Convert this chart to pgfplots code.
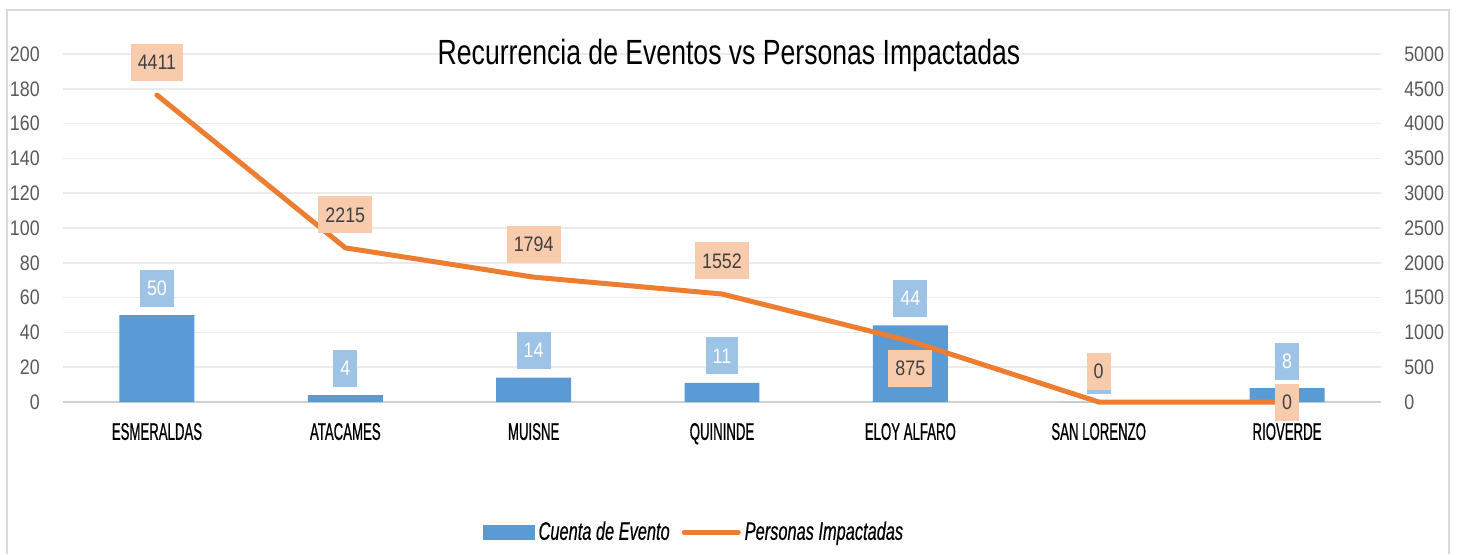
\documentclass[border=0pt]{standalone}
\usepackage{fontspec}
\setmainfont{Liberation Sans}[FakeStretch=0.65]
\newfontfamily\numfont{Liberation Sans}[FakeStretch=0.85]
\newfontfamily\catfont{Liberation Sans}[FakeStretch=0.55, FakeBold=0.7]
\newfontfamily\legfont{Liberation Sans}[FakeStretch=0.65, FakeBold=0.5]
\newfontfamily\titlefont{Liberation Sans}[FakeStretch=0.76]
\usepackage{pgfplots}
\usepackage{pgfplotstable}
\pgfplotsset{compat=1.18}
\definecolor{barblue}{HTML}{5B9BD5}
\definecolor{lineorange}{HTML}{ED7D31}
\definecolor{lblblue}{HTML}{9DC3E6}
\definecolor{lblorange}{HTML}{F8CBAD}
\definecolor{gridgray}{HTML}{EBEBEB}
\definecolor{axgray}{HTML}{D0D0D0}
\definecolor{ticktxt}{HTML}{595959}
\definecolor{framegray}{HTML}{D9D9D9}

\pgfplotstableread{
x y lab
0 50 50
1 4 4
2 14 14
3 11 11
4 44 44
5 0 0
6 8 8
}\bars

\pgfplotstableread{
x y lab off
0 4411 4411 16.5
1 2215 2215 16.5
2 1794 1794 16.5
3 1552 1552 16.5
4 875 875 -13.5
5 0 0 15.5
6 0 0 0
}\persons

\begin{document}
\begin{tikzpicture}
\useasboundingbox (0,0) rectangle (731.5pt,277pt);
\fill[white] (0,0) rectangle (731.5pt,277pt);
\draw[framegray, line width=1pt] (3.25pt,0) -- (3.25pt,272.25pt) -- (724.5pt,272.25pt) -- (724.5pt,0);

\begin{axis}[
  at={(31.4pt,76pt)}, anchor=south west,
  scale only axis, width=659.2pt, height=174pt,
  xmin=-0.5, xmax=6.5, ymin=0, ymax=200,
  ytick distance=20,
  xtick={0,...,6},
  xticklabels={ESMERALDAS,ATACAMES,MUISNE,QUININDE,ELOY ALFARO,SAN LORENZO,RIOVERDE},
  axis y line*=left, axis x line*=bottom,
  y axis line style={draw=none},
  x axis line style={draw=axgray, line width=0.8pt, -},
  major tick length=0pt,
  ymajorgrids, grid style={gridgray, line width=0.8pt},
  /pgf/number format/assume math mode=true,
  yticklabel style={font=\numfont\fontsize{10.5}{12}\selectfont, text=ticktxt, xshift=-8pt},
  xticklabel style={font=\catfont\fontsize{12}{14}\selectfont, text=black, yshift=-7pt},
  clip=false,
]
\addplot[ybar, bar width=0.398, fill=barblue, draw=none,
  point meta=explicit symbolic,
  nodes near coords={\pgfplotspointmeta},
  nodes near coords style={anchor=south, yshift=4pt, fill=lblblue, text=white,
    font=\numfont\fontsize{10.5}{12}\selectfont, inner xsep=3.5pt, minimum height=18.5pt},
] table[x=x, y=y, meta=lab] {\bars};
\end{axis}

\begin{axis}[
  at={(31.4pt,76pt)}, anchor=south west,
  scale only axis, width=659.2pt, height=174pt,
  xmin=-0.5, xmax=6.5, ymin=0, ymax=5000,
  ytick distance=500,
  axis y line*=right, hide x axis,
  y axis line style={draw=none},
  major tick length=0pt,
  /pgf/number format/assume math mode=true,
  /pgf/number format/1000 sep={},
  yticklabel style={font=\numfont\fontsize{10.5}{12}\selectfont, text=ticktxt, xshift=8pt},
  clip=false,
  legend columns=2,
  legend style={draw=none, fill=none, at={(0.4795,-0.374)}, anchor=center,
    font=\legfont\itshape\fontsize{12.6}{14}\selectfont,
    /tikz/every even column/.append style={column sep=4pt}},
]
\addlegendimage{legend image code/.code={\fill[barblue] (0pt,-3.5pt) rectangle (25.5pt,3.5pt);}}
\addlegendentry{Cuenta de Evento}
\addplot[lineorange, line width=2.5pt, line join=round, line cap=round,
  legend image code/.code={\draw[lineorange, line width=2.5pt, line cap=round] (0pt,0pt) -- (27pt,0pt);},
  point meta=explicit symbolic,
  visualization depends on={\thisrow{off} \as \myoff},
  nodes near coords={\pgfplotspointmeta},
  nodes near coords style={anchor=center, yshift=\myoff*1pt, fill=lblorange, text=black!75,
    font=\numfont\fontsize{10.5}{12}\selectfont, inner xsep=3.5pt, minimum height=18.5pt},
] table[x=x, y=y, meta=lab] {\persons};
\addlegendentry{Personas Impactadas}
\end{axis}

\node[font=\titlefont\fontsize{17.5}{20}\selectfont] at (364.5pt,249.5pt) {Recurrencia de Eventos vs Personas Impactadas};
\end{tikzpicture}
\end{document}
